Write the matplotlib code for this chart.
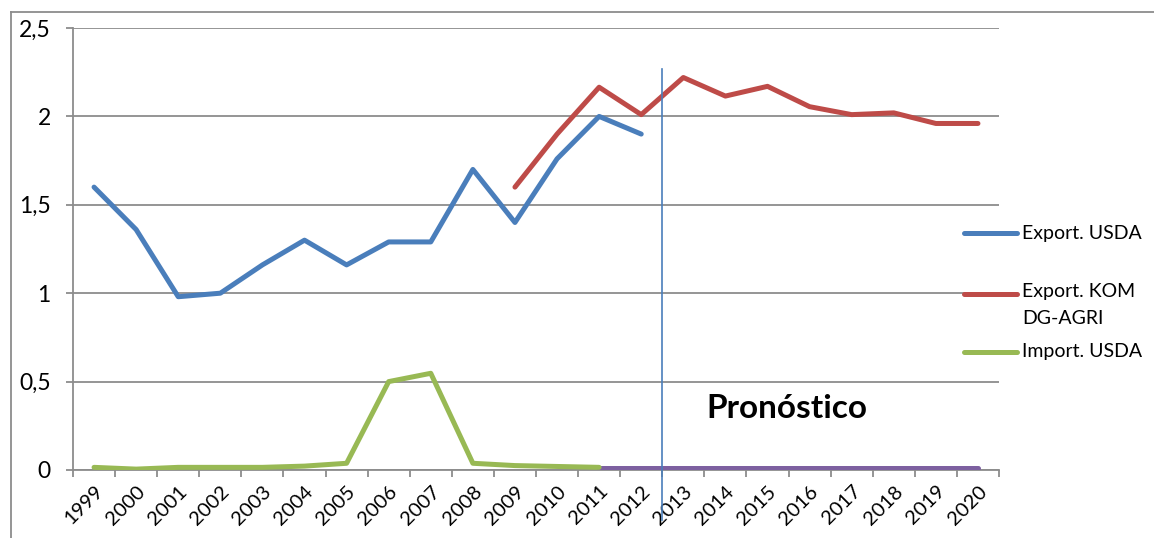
import matplotlib
matplotlib.use("Agg")
import matplotlib.pyplot as plt
from matplotlib.lines import Line2D
import numpy as np

years = [str(y) for y in range(1999, 2021)]
nan = np.nan
export_usda = [1.60, 1.36, 0.98, 1.00, 1.16, 1.30, 1.16, 1.29, 1.29, 1.70, 1.40, 1.76, 2.00, 1.90,
               nan, nan, nan, nan, nan, nan, nan, nan]
export_kom = [nan, nan, nan, nan, nan, nan, nan, nan, nan, nan, 1.60, 1.90, 2.165, 2.01,
              2.22, 2.115, 2.17, 2.055, 2.01, 2.02, 1.96, 1.96]
import_usda = [0.015, 0.005, 0.015, 0.015, 0.015, 0.022, 0.038, 0.50, 0.547, 0.038, 0.025, 0.02, 0.015,
               nan, nan, nan, nan, nan, nan, nan, nan, nan]
import_kom = [nan, nan, nan, nan, nan, nan, nan, nan, nan, nan, nan, nan, 0.01,
              0.01, 0.01, 0.01, 0.01, 0.01, 0.01, 0.01, 0.01, 0.01]
y_ticks = [0, 0.5, 1, 1.5, 2, 2.5]
y_ticklabels = ["0", "0,5", "1", "1,5", "2", "2,5"]
legend_labels = ["Export. USDA", "Export. KOM\nDG-AGRI", "Import. USDA"]
forecast_label = "Pronóstico"
forecast_start = "2013"

BLUE = "#4A7EBB"
RED = "#BE4B48"
GREEN = "#98B954"
PURPLE = "#7D60A0"
GRID = "#8C8C8C"
FONT = "Lato"

W, H = 1154, 538
fig = plt.figure(figsize=(W / 100, H / 100), dpi=100)
ax = fig.add_axes([73 / W, (H - 470) / H, (999 - 73) / W, (470 - 28) / H])

x = np.arange(len(years))
lw = 3.6
ax.plot(x, export_usda, color=BLUE, lw=lw, solid_capstyle="round", solid_joinstyle="round", zorder=3)
ax.plot(x, export_kom, color=RED, lw=lw, solid_capstyle="round", solid_joinstyle="round", zorder=3)
ax.plot(x, import_kom, color=PURPLE, lw=lw, solid_capstyle="round", solid_joinstyle="round", zorder=3)
ax.plot(x, import_usda, color=GREEN, lw=lw, solid_capstyle="round", solid_joinstyle="round", zorder=4)

ax.set_xlim(-0.5, len(years) - 0.5)
ax.set_ylim(0, 2.5)

ax.set_yticks(y_ticks)
ax.set_yticklabels(y_ticklabels, fontsize=16.5, family=FONT)
ax.yaxis.grid(True, color=GRID, lw=1.3)
ax.set_axisbelow(True)

ax.set_xticks(x)
ax.set_xticklabels(years, fontsize=14.5, family=FONT, rotation=45, ha="right", va="top",
                   rotation_mode="anchor")
ax.set_xticks(np.arange(-0.5, len(years)), minor=True)
ax.tick_params(axis="x", which="major", length=0, pad=9)
ax.tick_params(axis="x", which="minor", length=5, width=1.3, color=GRID, direction="out")
ax.tick_params(axis="y", length=5, width=1.3, color=GRID, pad=11)

for s in ["top", "right"]:
    ax.spines[s].set_visible(False)
for s in ["left", "bottom"]:
    ax.spines[s].set_color(GRID)
    ax.spines[s].set_linewidth(1.3)

# forecast divider (between 2012 and 2013)
xd = years.index(forecast_start) - 0.5
ax.plot([xd, xd], [-0.283, 2.268], color=BLUE, lw=1.2, clip_on=False, zorder=5)
ax.text(16.46, 0.35, forecast_label, fontsize=24, fontweight="bold", family=FONT,
        ha="center", va="center")

# outer chart-area frame
fig.add_artist(Line2D([11 / W, 11 / W], [0, (H - 12) / H], color=GRID, lw=1.3))
fig.add_artist(Line2D([11 / W, 1], [(H - 12) / H, (H - 12) / H], color=GRID, lw=1.3))

# legend
leg_items = [(233, BLUE, legend_labels[0]), (294, RED, legend_labels[1]),
             (352, GREEN, legend_labels[2])]
for yy, c, lab in leg_items:
    fig.add_artist(Line2D([964 / W, 1017 / W], [(H - yy) / H] * 2, color=c, lw=lw,
                          solid_capstyle="round"))
    if "\n" in lab:
        fig.text(1022 / W, (H - yy + 11) / H, lab, fontsize=14, family=FONT, ha="left",
                 va="top", linespacing=1.7)
    else:
        fig.text(1022 / W, (H - yy) / H, lab, fontsize=14, family=FONT, ha="left",
                 va="center")

fig.savefig("out.png", dpi=100)
